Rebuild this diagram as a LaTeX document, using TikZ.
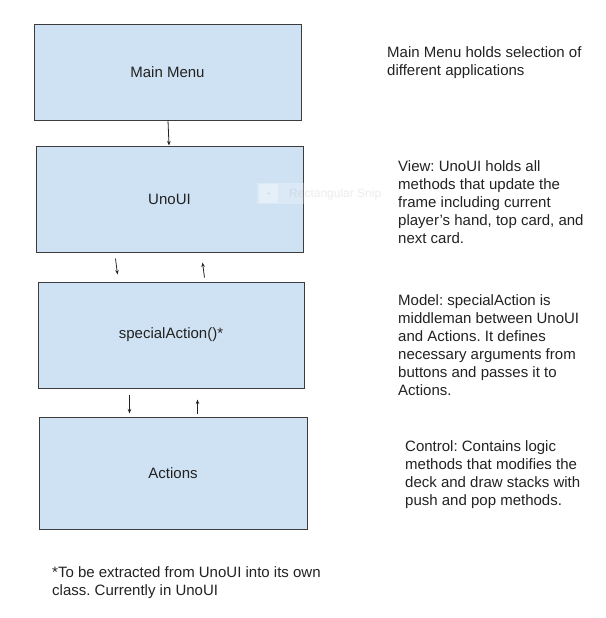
\documentclass[tikz,border=0pt]{standalone}
\usepackage{fontspec}
\setmainfont{Liberation Sans}
\usetikzlibrary{arrows.meta}
\definecolor{boxblue}{HTML}{CFE2F3}
\definecolor{boxline}{HTML}{3C3C3C}
\definecolor{inktext}{HTML}{222222}
\frenchspacing

\begin{document}
\begin{tikzpicture}
  [x=1pt, y=-1pt,
    BoxNode/.style={rectangle, draw=boxline, fill=boxblue, line width=1pt, text=inktext, font=\fontsize{15}{18}\selectfont},
    NoteNode/.style={anchor=north west, align=left, inner sep=0pt, text=inktext, font=\fontsize{15}{18}\selectfont},
    CallArrow/.style={-{Stealth[length=4.5pt,width=3.5pt]}, line width=0.8pt, draw=inktext}]
    \useasboundingbox (0,0) rectangle (605,618);
    % the four layers
    \node [BoxNode, minimum width=267pt, minimum height=95pt] (mainmenu) at (167.5,72.5) {Main Menu};
    \node [BoxNode, minimum width=267pt, minimum height=106pt] (unoui) at (169.5,199) {UnoUI};
    \node [BoxNode, minimum width=266pt, minimum height=106pt] (special) at (171,335) {specialAction()*};
    \node [BoxNode, minimum width=268pt, minimum height=112pt] (actions) at (173,473) {Actions};
    % faint snip tooltip left in the screenshot
    \node [rectangle, fill=white, fill opacity=0.25, minimum width=126pt, minimum height=21pt, inner sep=0pt] (snipbar) at (320,193.5) {};
    \node [rectangle, fill=white, fill opacity=0.3, minimum size=19pt, inner sep=0pt] (snipicon) at (268.5,193.5) {};
    \node [circle, fill=boxblue!70!gray, opacity=0.35, minimum size=3pt, inner sep=0pt] (snipdot) at (snipicon) {};
    \node [anchor=west, inner sep=0pt, text=gray, text opacity=0.15, font=\fontsize{12}{14}\selectfont] (sniptext) at (289,194) {Rectangular Snip};
    % calls between the layers
    \draw [CallArrow] ([xshift=0.5pt]mainmenu.south) -- ([xshift=-0.5pt]unoui.north);
    \draw [CallArrow] ([xshift=80pt,yshift=-6pt]unoui.south west) -- ([xshift=80pt,yshift=7pt]special.north west);
    \draw [CallArrow] ([xshift=167pt,yshift=4pt]special.north west) -- ([xshift=167pt,yshift=-10pt]unoui.south west);
    \draw [CallArrow] ([xshift=92pt,yshift=-6pt]special.south west) -- ([xshift=91pt,yshift=3pt]actions.north west);
    \draw [CallArrow] ([xshift=159pt,yshift=3pt]actions.north west) -- ([xshift=160pt,yshift=-11pt]special.south west);
    % notes on the right
    \node [NoteNode] (mainnote) at (387,46) {Main Menu holds selection of\\different applications};
    \node [NoteNode] (viewnote) at (398,160) {View: UnoUI holds all\\methods that update the\\frame including current\\player's hand, top card, and\\next card.};
    \node [NoteNode] (modelnote) at (398,294) {Model: specialAction is\\middleman between UnoUI\\and Actions. It defines\\necessary arguments from\\buttons and passes it to\\Actions.};
    \node [NoteNode] (controlnote) at (405,440) {Control: Contains logic\\methods that modifies the\\deck and draw stacks with\\push and pop methods.};
    \node [NoteNode] (footnote) at (52,566) {*To be extracted from UnoUI into its own\\class. Currently in UnoUI};
\end{tikzpicture}
\end{document}
